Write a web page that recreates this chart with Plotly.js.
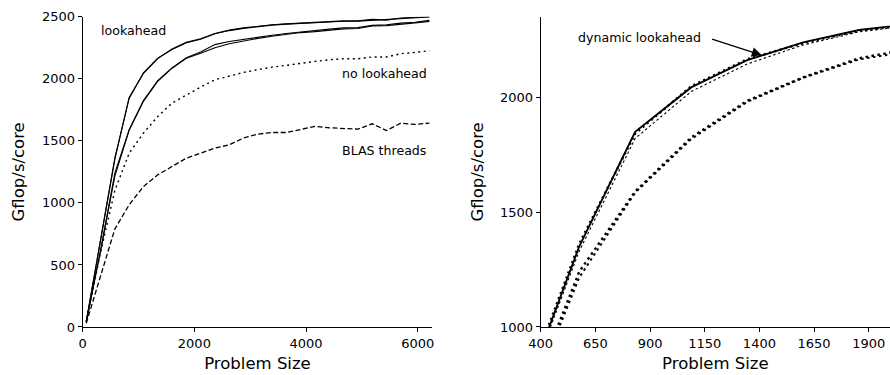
<!DOCTYPE html>
<html>
<head>
<meta charset="utf-8">
<script src="https://cdn.plot.ly/plotly-3.0.1.min.js"></script>
<style>html,body{margin:0;padding:0;background:#fff;}#chart{width:890px;height:375px;}</style>
</head>
<body>
<div id="chart"></div>
<script>
// Problem sizes (x)
const problemSize = [64,320,576,832,1088,1344,1600,1856,2112,2368,2624,2880,3136,3392,3648,3904,4160,4416,4672,4928,5184,5440,5696,5952,6208];
// lookahead (upper pair)
const lookaheadA = [43,700,1350,1850,2043,2162,2239,2293,2322,2365,2392,2410,2424,2435,2442,2448,2456,2462,2466,2466,2478,2472,2490,2496,2500];
const lookaheadB = [43,710,1362,1842,2048,2166,2236,2290,2318,2362,2388,2406,2420,2432,2440,2446,2452,2458,2463,2464,2470,2480,2486,2494,2498];
// lookahead (lower pair)
const lookaheadC = [43,620,1240,1590,1825,1985,2087,2170,2215,2275,2300,2318,2335,2350,2365,2378,2388,2400,2410,2412,2430,2435,2448,2455,2470];
const lookaheadD = [43,610,1215,1585,1818,1980,2085,2165,2205,2250,2282,2305,2325,2342,2358,2372,2380,2392,2402,2405,2425,2428,2442,2450,2462];
// no lookahead
const noLookahead = [43,600,1100,1400,1562,1696,1804,1871,1933,1992,2024,2051,2073,2094,2108,2126,2140,2153,2161,2161,2175,2175,2202,2212,2226];
// BLAS threads
const blasThreads = [30,420,790,984,1132,1226,1293,1360,1400,1441,1468,1522,1554,1567,1567,1594,1616,1605,1602,1594,1637,1583,1642,1632,1642];
// right panel: thin dotted companion of dynamic lookahead
const rightX = [64,320,576,832,1088,1344,1600,1856,2112];
const dynamicThin = [43,690,1330,1821,2025,2145,2228,2285,2315];

const leftYTicks = [0,500,1000,1500,2000,2500];
const leftXTicks = [0,2000,4000,6000];
const rightYTicks = [1000,1500,2000];
const rightXTicks = [400,650,900,1150,1400,1650,1900];

const FONT = 'DejaVu Sans, Liberation Sans, sans-serif';
function ln(x, y, xa, ya, width, dash) {
  return {x: x, y: y, xaxis: xa, yaxis: ya, type: 'scatter', mode: 'lines',
    line: {color: '#000', width: width, dash: dash || 'solid'}, hoverinfo: 'skip', showlegend: false};
}
const traces = [
  ln(problemSize, lookaheadA, 'x', 'y', 1.1),
  ln(problemSize, lookaheadB, 'x', 'y', 1.1),
  ln(problemSize, lookaheadC, 'x', 'y', 1.1),
  ln(problemSize, lookaheadD, 'x', 'y', 1.1),
  ln(problemSize, noLookahead, 'x', 'y', 1.4, '2px,3.5px'),
  ln(problemSize, blasThreads, 'x', 'y', 1.3, '5px,2.5px'),
  // right panel
  ln(rightX, dynamicThin, 'x2', 'y2', 1.1, '2.5px,2.5px'),
  ln(problemSize, lookaheadC, 'x2', 'y2', 2.4, '2.5px,3.5px'),
  ln(problemSize, lookaheadD, 'x2', 'y2', 2.0, '2.5px,3.5px'),
  ln(problemSize, lookaheadA, 'x2', 'y2', 1.9),
  ln(problemSize, lookaheadB, 'x2', 'y2', 2.4, '2px,3.5px')
];

const axisCommon = {
  showline: true, linecolor: '#000', linewidth: 1, ticks: 'outside', ticklen: 4, tickwidth: 1,
  tickcolor: '#000', showgrid: false, zeroline: false, mirror: false, tickmode: 'array',
  tickfont: {family: FONT, size: 13, color: '#000'}, automargin: false
};
const titleFont = {family: FONT, size: 16.5, color: '#000'};
const annFont = {family: FONT, size: 12.6, color: '#000'};

const layout = {
  width: 890, height: 375,
  margin: {l: 0, r: 0, t: 0, b: 0},
  paper_bgcolor: '#fff', plot_bgcolor: '#fff',
  showlegend: false,
  xaxis: Object.assign({}, axisCommon, {domain: [0.0929, 0.4857], range: [0, 6260], tickvals: leftXTicks,
    anchor: 'y', title: {text: 'Problem Size', font: titleFont, standoff: 7}}),
  yaxis: Object.assign({}, axisCommon, {domain: [0.128, 0.9555], range: [0, 2500], tickvals: leftYTicks,
    anchor: 'x', title: {text: 'Gflop/s/core', font: titleFont, standoff: 13}}),
  xaxis2: Object.assign({}, axisCommon, {domain: [0.6075, 1], range: [400, 1997], tickvals: rightXTicks,
    anchor: 'y2', title: {text: 'Problem Size', font: titleFont, standoff: 7}}),
  yaxis2: Object.assign({}, axisCommon, {domain: [0.128, 0.9555], range: [1000, 2351], tickvals: rightYTicks,
    anchor: 'x2', title: {text: 'Gflop/s/core', font: titleFont, standoff: 12}}),
  annotations: [
    {xref: 'x', yref: 'y', x: 300, y: 2387, text: 'lookahead', showarrow: false, xanchor: 'left', yanchor: 'middle', font: annFont},
    {xref: 'x', yref: 'y', x: 6210, y: 2046, text: 'no lookahead', showarrow: false, xanchor: 'right', yanchor: 'middle', font: annFont},
    {xref: 'x', yref: 'y', x: 6175, y: 1422, text: 'BLAS threads', showarrow: false, xanchor: 'right', yanchor: 'middle', font: annFont},
    {xref: 'x2', yref: 'y2', x: 562, y: 2261, text: 'dynamic lookahead', showarrow: false, xanchor: 'left', yanchor: 'middle', font: annFont},
    {xref: 'x2', yref: 'y2', x: 1410, y: 2184, text: ' ', showarrow: true, ax: -53, ay: -17,
      arrowhead: 2, arrowsize: 1.5, arrowwidth: 1.3, arrowcolor: '#000', font: annFont}
  ]
};

Plotly.newPlot('chart', traces, layout, {displayModeBar: false, staticPlot: true});
</script>
</body>
</html>
